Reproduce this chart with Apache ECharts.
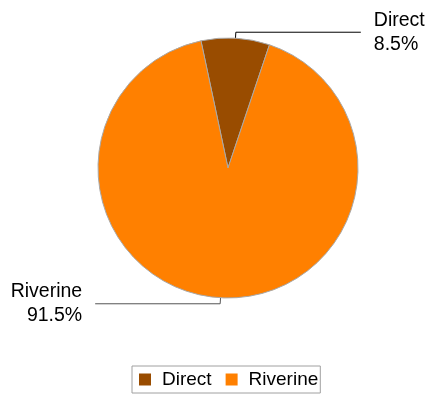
<!DOCTYPE html>
<html>
<head>
<meta charset="utf-8">
<style>
  html, body { margin: 0; padding: 0; background: #fff; }
  #chart { width: 433px; height: 394px; }
</style>
<script src="https://cdn.jsdelivr.net/npm/echarts@6/dist/echarts.min.js"></script>
</head>
<body>
<div id="chart"></div>
<script>
// 数据
var categories = ['Direct', 'Riverine'];
var shares = [8.5, 91.5];
var sliceColors = ['#994c00', '#ff8000'];
var lineColors = ['#000', '#555'];

(function() {
  var myChart = echarts.init(document.getElementById('chart'));
  var font = 'Liberation Sans, Arial, sans-serif';

  var data = categories.map(function(name, i) {
    return {
      name: name,
      value: shares[i],
      itemStyle: { color: sliceColors[i] },
      labelLine: { lineStyle: { color: lineColors[i] } }
    };
  });

  var option = {
    animation: false,
    legend: {
      data: categories,
      left: 132,
      bottom: 1,
      orient: 'horizontal',
      icon: 'rect',
      itemWidth: 12,
      itemHeight: 12,
      itemGap: 14,
      padding: [4, 2, 4, 7],
      borderColor: '#a0a0a0',
      borderWidth: 1,
      itemStyle: { borderWidth: 0 },
      textStyle: {
        fontFamily: font,
        fontSize: 19,
        color: '#000',
        lineHeight: 14,
        padding: [0, 0, 0, 6]
      }
    },
    series: [
      {
        type: 'pie',
        center: [228, 168],
        radius: 130,
        startAngle: 102,
        clockwise: true,
        avoidLabelOverlap: false,
        data: data,
        itemStyle: {
          borderColor: '#a8a8a8',
          borderWidth: 1
        },
        label: {
          show: true,
          position: 'outside',
          formatter: function(p) {
            return p.name + '\n' + p.value + '%';
          },
          fontFamily: font,
          fontSize: 19.5,
          lineHeight: 24,
          color: '#000',
          distanceToLabelLine: 13
        },
        labelLine: {
          show: true,
          length: 6,
          length2: 125,
          lineStyle: { width: 1 }
        },
        emphasis: { disabled: true }
      }
    ]
  };
  myChart.setOption(option);
  window.addEventListener('resize', function() {
    myChart.resize();
  });
})();
</script>
</body>
</html>
